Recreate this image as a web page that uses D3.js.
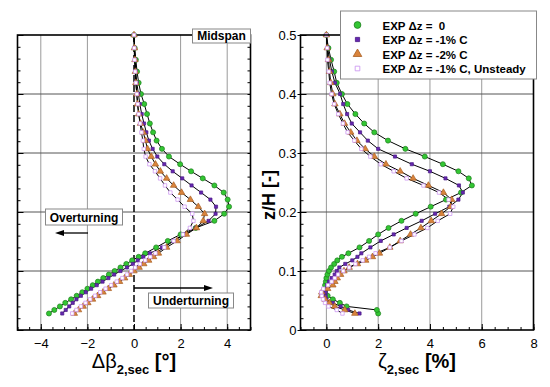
<!DOCTYPE html>
<meta charset="utf-8">
<head>
<title>Secondary flow profiles at midspan</title>
<style>
  body { margin: 0; background: #fff; }
  svg { font-family: "Liberation Sans", Arial, sans-serif; }
  .tick text { font-size: 13px; fill: #000; }
  .tick line { stroke: #000; }
  .curve { fill: none; stroke: #000; stroke-width: 1; }
  .lbl { font-weight: bold; white-space: pre; }
</style>
</head>
<body>
<svg width="550" height="387"></svg>
<script src="https://cdn.jsdelivr.net/npm/d3@7/dist/d3.min.js"></script>
<script>

// spanwise positions z/H (shared by all series)
var zH = [0.028,0.034,0.040,0.046,0.052,0.058,0.064,0.070,0.076,0.082,0.088,0.094,0.100,0.106,0.112,0.118,0.124,0.130,
          0.140,0.151,0.162,0.173,0.185,0.197,0.209,0.221,0.233,0.245,0.257,0.269,0.281,0.294,0.307,0.321,0.335,0.350,
          0.366,0.383,0.400,0.419,0.438,0.458,0.478,0.500];

// delta beta_2,sec [deg]
var betaExp0   = [-3.65,-3.42,-3.18,-2.95,-2.7,-2.46,-2.22,-2.0,-1.77,-1.55,-1.32,-1.08,-0.83,-0.58,-0.33,-0.08,0.2,0.48,
                  0.95,1.45,2.0,2.65,3.45,3.87,4.08,4.02,3.85,3.45,2.95,2.45,1.98,1.5,1.2,0.97,0.82,0.68,0.56,0.44,0.3,0.2,0.13,0.08,0.03,0.0];
var betaExpM1  = [-3.08,-2.93,-2.78,-2.63,-2.47,-2.28,-2.07,-1.84,-1.6,-1.35,-1.1,-0.85,-0.58,-0.3,-0.05,0.16,0.4,0.68,
                  1.2,1.7,2.18,2.65,3.2,3.5,3.52,3.28,2.88,2.47,2.07,1.66,1.3,1.0,0.8,0.64,0.53,0.43,0.33,0.25,0.19,0.12,0.08,0.05,0.02,0.0];
var betaExpM2  = [-2.56,-2.38,-2.18,-1.98,-1.78,-1.56,-1.33,-1.1,-0.86,-0.62,-0.4,-0.2,0.0,0.22,0.42,0.63,0.84,1.05,
                  1.4,1.85,2.25,2.68,2.97,3.03,2.76,2.42,2.04,1.7,1.4,1.13,0.92,0.74,0.58,0.49,0.4,0.28,0.2,0.15,0.12,0.08,0.06,0.04,0.02,0.0];
var betaExpUns = [-2.65,-2.47,-2.28,-2.08,-1.88,-1.67,-1.45,-1.22,-0.98,-0.74,-0.5,-0.3,-0.12,0.05,0.25,0.48,0.7,0.92,
                  1.3,1.7,2.1,2.4,2.55,2.5,2.17,1.87,1.56,1.33,1.12,0.9,0.66,0.5,0.42,0.38,0.32,0.26,0.2,0.16,0.12,0.08,0.05,0.02,0.01,0.0];

// zeta_2,sec [%]
var zetaExp0   = [2.0,1.95,0.78,0.52,0.25,0.05,-0.05,-0.06,-0.05,-0.02,0.0,0.04,0.1,0.18,0.3,0.42,0.6,0.85,
                  1.28,1.65,2.0,2.4,2.9,3.45,4.03,4.62,5.2,5.62,5.5,5.1,4.5,3.8,3.05,2.38,1.85,1.46,1.12,0.81,0.6,0.4,0.3,0.18,0.08,0.0];
var zetaExpM1  = [1.28,0.84,0.55,0.25,0.0,-0.03,-0.03,-0.01,0.03,0.1,0.2,0.32,0.4,0.5,0.73,1.0,1.2,1.35,
                  1.7,2.1,2.6,3.1,3.68,4.2,4.75,5.1,5.27,5.12,4.6,4.0,3.3,2.65,2.0,1.6,1.3,0.98,0.8,0.65,0.53,0.33,0.21,0.12,0.05,0.0];
var zetaExpM2  = [1.1,0.71,0.32,0.12,-0.05,-0.2,-0.18,0.05,0.25,0.33,0.42,0.55,0.68,0.88,1.2,1.52,1.78,2.05,
                  2.45,2.85,3.25,3.65,4.05,4.45,4.8,4.84,4.52,3.94,3.35,2.85,2.3,1.85,1.5,1.18,0.94,0.7,0.52,0.33,0.25,0.17,0.12,0.08,0.03,0.0];
var zetaExpUns = [0.62,0.4,0.08,-0.05,-0.13,-0.18,-0.2,-0.12,0.06,0.2,0.32,0.45,0.65,0.88,1.12,1.4,1.65,1.9,
                  2.45,2.9,3.4,3.9,4.3,4.78,4.9,4.72,4.35,3.75,3.1,2.6,2.1,1.7,1.35,1.08,0.82,0.64,0.46,0.3,0.2,0.13,0.09,0.04,0.03,0.0];

var legendLabels = ["EXP \u0394z =  0", "EXP \u0394z = -1% C", "EXP \u0394z = -2% C", "EXP \u0394z = -1% C, Unsteady"];
var betaTicks = [-4, -2, 0, 2, 4];
var zetaTicks = [0, 2, 4, 6, 8];
var zTicks = [0, 0.1, 0.2, 0.3, 0.4, 0.5];

var svg = d3.select("svg");

var yScale = d3.scaleLinear().domain([0, 0.5]).range([330, 35]);
var xBeta = d3.scaleLinear().domain([-5, 5]).range([17.5, 250.5]);
var xZeta = d3.scaleLinear().domain([-1, 8]).range([300.5, 533.5]);

var series = [
  {name: legendLabels[0], beta: betaExp0, zeta: zetaExp0, sym: d3.symbolCircle, size: 20, fill: "#33c633", stroke: "#1e7d1e"},
  {name: legendLabels[1], beta: betaExpM1, zeta: zetaExpM1, sym: d3.symbolSquare, size: 10, fill: "#6527b0", stroke: "#4a1a85"},
  {name: legendLabels[2], beta: betaExpM2, zeta: zetaExpM2, sym: d3.symbolTriangle, size: 18, fill: "#d9843c", stroke: "#a85e22"},
  {name: legendLabels[3], beta: betaExpUns, zeta: zetaExpUns, sym: d3.symbolSquare, size: 12, fill: "#fff", stroke: "#c88ef0"}
];

function noDomain(g) { g.select(".domain").remove(); }

function drawPanel(x, xTicks, vGrid, key, showYLabels) {
  var g = svg.append("g");
  var x0 = x.range()[0], x1 = x.range()[1];

  // grid
  g.selectAll(".vgrid").data(vGrid).enter().append("line")
    .attr("x1", function(d) { return x(d); }).attr("x2", function(d) { return x(d); })
    .attr("y1", 35).attr("y2", 330).attr("stroke", "#9a9a9a").attr("stroke-width", 1);
  g.selectAll(".hgrid").data([0.1, 0.2, 0.3, 0.4]).enter().append("line")
    .attr("x1", x0).attr("x2", x1)
    .attr("y1", function(d) { return yScale(d); }).attr("y2", function(d) { return yScale(d); })
    .attr("stroke", "#555").attr("stroke-width", 1);

  // bottom axis, inward ticks
  var xMinor = d3.range(x.domain()[0], x.domain()[1] + 0.01, 0.5);
  g.append("g").attr("transform", "translate(0,330)")
    .call(d3.axisBottom(x).tickValues(xMinor).tickSize(-3).tickFormat(""))
    .call(noDomain);
  g.append("g").attr("transform", "translate(0,330)")
    .call(d3.axisBottom(x).tickValues(xTicks).tickSize(-6).tickPadding(9).tickFormat(d3.format("d")))
    .call(noDomain);

  // left axis
  var zMinor = d3.range(0, 0.501, 0.02);
  g.append("g").attr("transform", "translate(" + x0 + ",0)")
    .call(d3.axisLeft(yScale).tickValues(zMinor).tickSize(-3).tickFormat(""))
    .call(noDomain);
  var yAx = d3.axisLeft(yScale).tickValues(zTicks).tickSize(-6).tickPadding(4)
    .tickFormat(showYLabels ? function(d) { return d === 0 ? "0" : d3.format(".1f")(d); } : "");
  var ya = g.append("g").attr("transform", "translate(" + x0 + ",0)").call(yAx).call(noDomain);
  if (showYLabels) {
    ya.selectAll(".tick").append("line").attr("x2", -3).attr("stroke", "#000");
  } else {
    g.append("g").attr("transform", "translate(" + x1 + ",0)")
      .call(d3.axisRight(yScale).tickValues(zMinor).tickSize(-3).tickFormat(""))
      .call(noDomain);
  }

  // data
  var line = d3.line().x(function(d) { return x(d[0]); }).y(function(d) { return yScale(d[1]); });
  series.forEach(function(s) {
    var pts = s[key].map(function(v, i) { return [v, zH[i]]; });
    g.append("path").datum(pts).attr("class", "curve").attr("d", line);
  });
  series.forEach(function(s) {
    var pts = s[key].map(function(v, i) { return [v, zH[i]]; });
    g.selectAll(null).data(pts).enter().append("path")
      .attr("d", d3.symbol().type(s.sym).size(s.size))
      .attr("transform", function(d) { return "translate(" + x(d[0]) + "," + yScale(d[1]) + ")"; })
      .attr("fill", s.fill).attr("stroke", s.stroke).attr("stroke-width", 0.7);
  });

  // frame
  g.append("rect").attr("x", x0).attr("y", 35).attr("width", x1 - x0).attr("height", 295)
    .attr("fill", "none").attr("stroke", "#000").attr("stroke-width", 1.6);
  return g;
}

var left = drawPanel(xBeta, betaTicks, [-4, -2, 2, 4], "beta", false);
// dashed zero line
left.append("line").attr("x1", xBeta(0)).attr("x2", xBeta(0)).attr("y1", 35).attr("y2", 330)
  .attr("stroke", "#000").attr("stroke-width", 1.5).attr("stroke-dasharray", "7,3");
left.selectAll("path.curve").raise();
left.selectAll("path:not(.curve)").raise();

var right = drawPanel(xZeta, zetaTicks, [0, 2, 4, 6], "zeta", true);

// labels
function boxLabel(x, y, w, h, txt) {
  svg.append("rect").attr("x", x).attr("y", y).attr("width", w).attr("height", h)
    .attr("fill", "#fff").attr("stroke", "#888").attr("stroke-width", 1);
  svg.append("text").attr("class", "lbl").attr("x", x + w / 2).attr("y", y + h - 3.5)
    .attr("text-anchor", "middle").attr("font-size", "12px").text(txt);
}
boxLabel(192.5, 29, 58, 14, "Midspan");
boxLabel(45.5, 209, 77, 16, "Overturning");
boxLabel(148.5, 293, 85, 15, "Underturning");

function arrow(xa, xb, y) {
  var dir = xb > xa ? 1 : -1;
  svg.append("line").attr("x1", xa).attr("x2", xb - dir * 6).attr("y1", y).attr("y2", y)
    .attr("stroke", "#000").attr("stroke-width", 1.3);
  svg.append("path")
    .attr("d", "M" + xb + "," + y + "L" + (xb - dir * 9) + "," + (y - 3) + "L" + (xb - dir * 9) + "," + (y + 3) + "Z")
    .attr("fill", "#000");
}
arrow(88, 55, 233);
arrow(134, 213, 288);

// axis titles
var t1 = svg.append("text").attr("x", 134).attr("y", 368).attr("text-anchor", "middle");
t1.append("tspan").attr("font-size", "20px").text("\u0394\u03b2");
t1.append("tspan").attr("font-size", "13px").attr("font-weight", "bold").attr("dy", 6).text("2,sec");
t1.append("tspan").attr("font-size", "20px").attr("font-weight", "bold").attr("dy", -6).text(" [\u00b0]");

var t2 = svg.append("text").attr("x", 417).attr("y", 368).attr("text-anchor", "middle");
t2.append("tspan").attr("font-size", "20px").text("\u03b6");
t2.append("tspan").attr("font-size", "13px").attr("font-weight", "bold").attr("dy", 6).text("2,sec");
t2.append("tspan").attr("font-size", "20px").attr("font-weight", "bold").attr("dy", -6).text(" [%]");

svg.append("text").attr("transform", "translate(275,195) rotate(-90)")
  .attr("text-anchor", "middle").attr("font-size", "18px").attr("font-weight", "bold").text("z/H [-]");

// legend
var lg = svg.append("g").attr("transform", "translate(340.5,11)");
lg.append("rect").attr("width", 196).attr("height", 68).attr("fill", "#fff").attr("stroke", "#888");
series.forEach(function(s, i) {
  var yy = 14 + i * 14.5;
  lg.append("path").attr("d", d3.symbol().type(s.sym).size(s.size * 1.8))
    .attr("transform", "translate(17," + yy + ")")
    .attr("fill", s.fill).attr("stroke", s.stroke).attr("stroke-width", 0.8);
  lg.append("text").attr("class", "lbl").attr("x", 42).attr("y", yy + 4.5)
    .attr("font-size", "11.5px").text(s.name);
});

</script>
</body>
